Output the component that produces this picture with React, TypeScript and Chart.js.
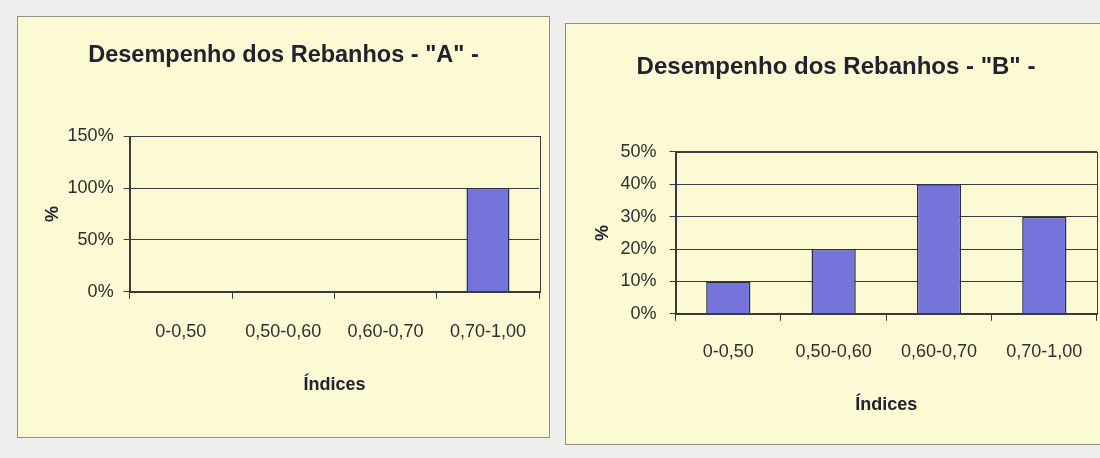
import React, { useEffect, useRef } from "react";
import { Chart, registerables } from "chart.js";

Chart.register(...registerables);

const categories = ["0-0,50", "0,50-0,60", "0,60-0,70", "0,70-1,00"];
const valuesA = [0, 0, 0, 100];
const valuesB = [10, 20, 40, 30];
const titleA = 'Desempenho dos Rebanhos - "A" -';
const titleB = 'Desempenho dos Rebanhos - "B" -';
const yMaxA = 150;
const yStepA = 50;
const yMaxB = 50;
const yStepB = 10;
const xTitle = "Índices";
const yTitle = "%";

const FONT = '"Liberation Sans", Arial, sans-serif';

const frame = {
  id: "frame",
  afterDatasetsDraw(chart: any) {
    const { ctx, chartArea } = chart;
    ctx.save();
    ctx.strokeStyle = "#3a3a3a";
    ctx.lineWidth = 1;
    ctx.strokeRect(
      Math.round(chartArea.left) + 0.5,
      Math.round(chartArea.top) + 0.5,
      Math.round(chartArea.right - chartArea.left),
      Math.round(chartArea.bottom - chartArea.top)
    );
    ctx.restore();
  },
};

type Props = {
  title: string;
  titleSize: number;
  values: number[];
  yMax: number;
  yStep: number;
  width: number;
  height: number;
  padding: any;
  titlePad: any;
  yTitlePad: any;
  xTitlePad: any;
  xTickPad: number;
  yTickPad: number;
};

function BarPanel(p: Props) {
  const ref = useRef<HTMLCanvasElement | null>(null);
  useEffect(() => {
    if (!ref.current) return;
    const chart = new Chart(ref.current, {
      type: "bar",
      data: {
        labels: categories,
        datasets: [
          {
            data: p.values,
            backgroundColor: "#7474da",
            borderColor: "#2c2c44",
            borderWidth: 1.5,
            categoryPercentage: 1,
            barPercentage: 0.42,
          },
        ],
      },
      options: {
        responsive: false,
        animation: false,
        layout: { padding: p.padding },
        plugins: {
          legend: { display: false },
          tooltip: { enabled: false },
          title: {
            display: true,
            text: p.title,
            color: "#22222e",
            font: { family: FONT, size: p.titleSize, weight: "bold" },
            padding: p.titlePad,
          },
        },
        scales: {
          x: {
            grid: {
              offset: true,
              drawOnChartArea: false,
              drawTicks: true,
              tickLength: 7,
              color: "#3a3a3a",
            },
            border: { color: "#3a3a3a" },
            ticks: {
              color: "#2e2e2e",
              font: { family: FONT, size: 18 },
              padding: p.xTickPad,
              maxRotation: 0,
            },
            title: {
              display: true,
              text: xTitle,
              color: "#22222e",
              font: { family: FONT, size: 18, weight: "bold" },
              padding: p.xTitlePad,
            },
          },
          y: {
            min: 0,
            max: p.yMax,
            grid: {
              color: "#3a3a3a",
              tickLength: 6,
            },
            border: { color: "#3a3a3a" },
            ticks: {
              stepSize: p.yStep,
              color: "#2e2e2e",
              font: { family: FONT, size: 18 },
              padding: p.yTickPad,
              callback: (v: any) => v + "%",
            },
            title: {
              display: true,
              text: yTitle,
              color: "#22222e",
              font: { family: FONT, size: 18, weight: "bold" },
              padding: p.yTitlePad,
            },
          },
        },
      },
      plugins: [frame],
    });
    return () => chart.destroy();
  }, []);
  return <canvas ref={ref} width={p.width} height={p.height} style={{ display: "block" }} />;
}

export default function App() {
  const page: React.CSSProperties = {
    position: "fixed",
    left: 0,
    top: 0,
    width: 1100,
    height: 458,
    background: "#eeeeec",
    overflow: "hidden",
  };
  const panel = (l: number, t: number, w: number, h: number): React.CSSProperties => ({
    position: "absolute",
    left: l,
    top: t,
    width: w,
    height: h,
    background: "#fcf9d5",
    border: "1px solid #8e8e8a",
    boxSizing: "border-box",
  });
  return (
    <div style={page}>
      <div style={panel(17, 16, 533, 422)}>
        <BarPanel
          title={titleA}
          titleSize={23.5}
          values={valuesA}
          yMax={yMaxA}
          yStep={yStepA}
          width={531}
          height={420}
          padding={{ left: 8, right: 8, top: 0, bottom: 41 }}
          titlePad={{ top: 24, bottom: 67 }}
          yTitlePad={{ top: 16, bottom: -6 }}
          xTitlePad={{ top: 10, bottom: 0 }}
          xTickPad={22}
          yTickPad={10}
        />
      </div>
      <div style={panel(565, 23, 545, 422)}>
        <BarPanel
          title={titleB}
          titleSize={24}
          values={valuesB}
          yMax={yMaxB}
          yStep={yStepB}
          width={543}
          height={420}
          padding={{ left: 9, right: 12, top: 0, bottom: 28 }}
          titlePad={{ top: 28.6, bottom: 70.6 }}
          yTitlePad={{ top: 17, bottom: -6 }}
          xTitlePad={{ top: 12, bottom: 0 }}
          xTickPad={20}
          yTickPad={13}
        />
      </div>
    </div>
  );
}
